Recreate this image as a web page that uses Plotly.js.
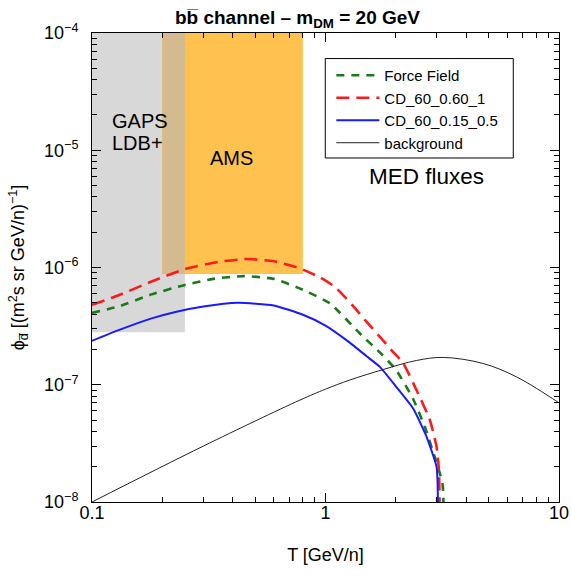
<!DOCTYPE html>
<html><head><meta charset="utf-8">
<script src="https://cdn.plot.ly/plotly-3.0.1.min.js"></script>
<style>body{margin:0;background:#fff}#plot{width:571px;height:577px}</style>
</head><body><div id="plot"></div>
<script>
// ---- data ----
const ffT   = [0.1, 0.13, 0.18, 0.25, 0.33, 0.445, 0.6, 0.78, 1.045, 1.4, 1.75, 2.01, 2.37, 2.66, 2.94, 3.17, 3.2];
const ffPhi = [4.1e-7, 4.65e-7, 5.9e-7, 7.1e-7, 8.0e-7, 8.45e-7, 8.0e-7, 6.6e-7, 4.94e-7, 2.75e-7, 1.8e-7, 1.33e-7, 7.6e-8, 4.4e-8, 2.4e-8, 1.44e-8, 1.0e-8];

const cd1T   = [0.1, 0.13, 0.18, 0.25, 0.35, 0.46, 0.6, 0.78, 0.95, 1.1, 1.3, 1.5, 1.71, 1.95, 2.15, 2.53, 2.8, 2.99, 3.06, 3.08];
const cd1Phi = [4.8e-7, 5.8e-7, 7.6e-7, 9.7e-7, 1.12e-6, 1.18e-6, 1.13e-6, 9.8e-7, 8.2e-7, 6.8e-7, 4.8e-7, 3.44e-7, 2.56e-7, 1.9e-7, 1.53e-7, 7.9e-8, 5.0e-8, 2.95e-8, 1.87e-8, 1.0e-8];

const cd2T   = [0.1, 0.13, 0.18, 0.23, 0.3, 0.42, 0.6, 0.8, 1.0, 1.23, 1.5, 1.71, 2.0, 2.37, 2.71, 2.99, 3.02, 3.03];
const cd2Phi = [2.37e-7, 2.92e-7, 3.68e-7, 4.2e-7, 4.65e-7, 5.0e-7, 4.75e-7, 3.95e-7, 3.2e-7, 2.4e-7, 1.75e-7, 1.42e-7, 9.7e-8, 6.3e-8, 3.6e-8, 2.0e-8, 1.45e-8, 1.0e-8];

const bgT   = [0.1, 0.3, 0.777, 1.0, 1.27, 1.77, 2.45, 3.19, 4.72, 6.56, 9.4, 10];
const bgPhi = [1.0e-8, 3.0e-8, 7.4e-8, 9.17e-8, 1.097e-7, 1.35e-7, 1.61e-7, 1.71e-7, 1.52e-7, 1.17e-7, 7.6e-8, 7.0e-8];

// sensitivity regions [Tmin, Tmax, phiMin, phiMax]
const gapsRegion = [0.1, 0.25, 2.8e-7, 1e-4];
const amsRegion  = [0.2, 0.8, 8.8e-7, 1e-4];

const xTickVals = [0.1, 1, 10];
const xTickText = ['0.1', '1', '10'];
const yTickVals = [1e-8, 1e-7, 1e-6, 1e-5, 1e-4];
const yTickText = ['10<sup>−8</sup>', '10<sup>−7</sup>', '10<sup>−6</sup>', '10<sup>−5</sup>', '10<sup>−4</sup>'];

// ---- figure ----
const FONT = 'Liberation Sans, Arial, sans-serif';
function minors(lo, hi) {
  const out = [];
  for (let d = lo; d < hi * 0.99; d *= 10) for (let k = 2; k <= 9; k++) out.push(d * k);
  return out;
}

const traces = [
  {x: ffT, y: ffPhi, name: 'Force Field', mode: 'lines',
   line: {color: '#1a7a1a', width: 2.6, dash: '8px,7px', shape: 'spline', smoothing: 0.5}},
  {x: cd1T, y: cd1Phi, name: 'CD_60_0.60_1', mode: 'lines',
   line: {color: '#ff1a1a', width: 2.6, dash: '13px,7px', shape: 'spline', smoothing: 0.5}},
  {x: cd2T, y: cd2Phi, name: 'CD_60_0.15_0.5', mode: 'lines',
   line: {color: '#1a1aff', width: 2, shape: 'spline', smoothing: 0.5}},
  {x: bgT, y: bgPhi, name: 'background', mode: 'lines',
   line: {color: '#222', width: 1, shape: 'spline', smoothing: 1}},
  // carrier for the minor-tick overlay axes (no marks)
  {x: [], y: [], xaxis: 'x2', yaxis: 'y2', mode: 'lines', showlegend: false, hoverinfo: 'skip'}
];

const ov = [Math.max(gapsRegion[0], amsRegion[0]), Math.min(gapsRegion[1], amsRegion[1]),
            Math.max(gapsRegion[2], amsRegion[2]), Math.min(gapsRegion[3], amsRegion[3])];
function rect(r, color) {
  return {type: 'rect', xref: 'x', yref: 'y', x0: r[0], x1: r[1], y0: r[2], y1: r[3],
          fillcolor: color, line: {width: 0}, layer: 'below'};
}

const axisCommon = {
  type: 'log', showgrid: false, zeroline: false,
  showline: true, linecolor: '#000', linewidth: 1, mirror: 'ticks',
  ticks: 'inside', ticklen: 9, tickcolor: '#000', tickmode: 'array',
  tickfont: {size: 18}
};
const minorCommon = {
  type: 'log', showgrid: false, zeroline: false, showline: false, showticklabels: false,
  ticks: 'inside', ticklen: 5, tickcolor: '#000', tickmode: 'array', mirror: 'ticks', fixedrange: true
};

const layout = {
  width: 571, height: 577,
  margin: {l: 91.5, r: 12, t: 33, b: 75},
  paper_bgcolor: '#fff', plot_bgcolor: '#fff',
  font: {family: FONT, color: '#000'},
  showlegend: true,
  title: {text: '<b>bb̅ channel – m<sub>DM</sub> = 20 GeV</b>', font: {size: 19, family: FONT},
          x: 0.521, xanchor: 'center', y: 0.97, yanchor: 'middle', yref: 'container'},
  xaxis: Object.assign({}, axisCommon, {range: [-1, 1], tickvals: xTickVals, ticktext: xTickText,
          ticklabelstandoff: -6,
          title: {text: 'T [GeV/n]', font: {size: 18}, standoff: 26}}),
  yaxis: Object.assign({}, axisCommon, {range: [-8, -4], tickvals: yTickVals, ticktext: yTickText,
          ticklabelstandoff: 9,
          title: {text: 'ϕ<sub>d̅</sub> [(m<sup>2</sup>s sr GeV/n)<sup>−1</sup>]', font: {size: 18}, standoff: 14}}),
  xaxis2: Object.assign({}, minorCommon, {overlaying: 'x', anchor: 'y', side: 'bottom', range: [-1, 1], tickvals: minors(0.1, 10)}),
  yaxis2: Object.assign({}, minorCommon, {overlaying: 'y', anchor: 'x', side: 'left', range: [-8, -4], tickvals: minors(1e-8, 1e-4)}),
  legend: {x: 0.5125, y: 0.9446, xanchor: 'left', yanchor: 'top',
           bgcolor: 'rgba(0,0,0,0)', borderwidth: 0,
           font: {size: 15, family: FONT}, itemwidth: 43, tracegroupgap: 0},
  shapes: [
    rect(gapsRegion, '#d8d8d8'), rect(amsRegion, '#ffc24f'), rect(ov, '#d4ba90'),
    {type: 'rect', xref: 'paper', yref: 'paper', x0: 0.4995, x1: 0.9021, y0: 0.7335, y1: 0.9455,
     fillcolor: '#fff', line: {color: '#000', width: 1}, layer: 'below'}
  ],
  annotations: [
    {xref: 'paper', yref: 'paper', x: 0.0396, y: 0.812, text: 'GAPS',
     showarrow: false, font: {size: 20}, xanchor: 'left', yanchor: 'middle'},
    {xref: 'paper', yref: 'paper', x: 0.0396, y: 0.765, text: 'LDB+',
     showarrow: false, font: {size: 20}, xanchor: 'left', yanchor: 'middle'},
    {xref: 'paper', yref: 'paper', x: 0.298, y: 0.733, text: 'AMS',
     showarrow: false, font: {size: 20}, xanchor: 'center', yanchor: 'middle'},
    {xref: 'paper', yref: 'paper', x: 0.717, y: 0.6936, text: 'MED fluxes',
     showarrow: false, font: {size: 22.5}, xanchor: 'center', yanchor: 'middle'}
  ]
};

Plotly.newPlot('plot', traces, layout, {displayModeBar: false, staticPlot: true});
</script></body></html>
